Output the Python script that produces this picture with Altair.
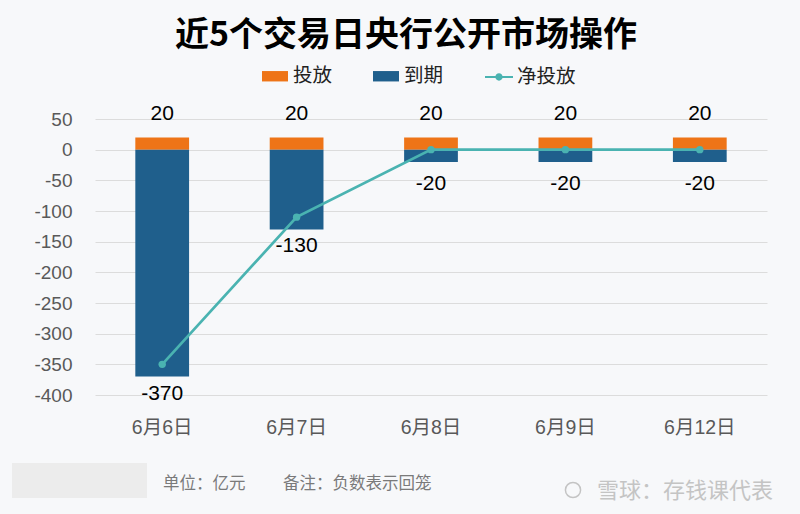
import altair as alt
import pandas as pd

# ---- data ----
dates = ["6月6日", "6月7日", "6月8日", "6月9日", "6月12日"]
injection = [20, 20, 20, 20, 20]          # 投放
maturity = [-370, -130, -20, -20, -20]    # 到期
net = [-350, -110, 0, 0, 0]               # 净投放
y_ticks = [50, 0, -50, -100, -150, -200, -250, -300, -350, -400]

bar_types = ["投放", "到期"]
bar_colors = ["#ee7417", "#1f5f8c"]
line_color = "#4ab3b1"

FONT = "Liberation Sans, Noto Sans CJK SC, sans-serif"
CJK = "Noto Sans CJK SC, sans-serif"

bars_df = pd.DataFrame({
    "日期": dates * 2,
    "类型": ["投放"] * len(dates) + ["到期"] * len(dates),
    "值": injection + maturity,
})
net_df = pd.DataFrame({"日期": dates, "系列": ["净投放"] * len(dates), "值": net})

x_enc = alt.X("日期:N", sort=dates, title=None,
              scale=alt.Scale(paddingInner=0.6, paddingOuter=0.3),
              axis=alt.Axis(labelAngle=0, labelFontSize=19.5, labelColor="#595959",
                            labelFont=FONT, ticks=False, domain=False,
                            labelPadding=23, grid=False))
y_scale = alt.Scale(domain=[-400, 50], nice=False, zero=True)
y_enc = alt.Y("值:Q", scale=y_scale, title=None,
              axis=alt.Axis(values=y_ticks, tickCount=len(y_ticks) + 2,
                            labelFontSize=19, labelColor="#595959",
                            labelFont=FONT, ticks=False, domain=False,
                            labelOverlap=False, labelFlush=False,
                            labelExpr="toString(datum.value)",
                            labelPadding=23, gridColor="#dcdcdc", gridWidth=1))

rect_shape = "M-1,-0.4H1V0.4H-1Z"
line_shape = ("M-1,-0.08H1V0.08H-1Z "
              "M0.26,0A0.26,0.26 0 1 1 -0.26,0A0.26,0.26 0 1 1 0.26,0Z")

bars = alt.Chart(bars_df).mark_bar().encode(
    x=x_enc,
    y=y_enc,
    color=alt.Color("类型:N",
                    scale=alt.Scale(domain=bar_types, range=bar_colors),
                    legend=alt.Legend(title=None, orient="none", direction="horizontal",
                                      legendX=167, legendY=-56,
                                      symbolType=rect_shape, symbolSize=676,
                                      symbolStrokeWidth=0,
                                      labelFontSize=19.5, labelFont=CJK, labelColor="#222222",
                                      labelOffset=5, columnPadding=40)),
)

line = alt.Chart(net_df).mark_line(strokeWidth=2.7).encode(
    x=alt.X("日期:N", sort=dates),
    y=alt.Y("值:Q"),
    stroke=alt.Stroke("系列:N",
                      scale=alt.Scale(domain=["净投放"], range=[line_color]),
                      legend=alt.Legend(title=None, orient="none", direction="horizontal",
                                        legendX=390, legendY=-56,
                                        symbolType=line_shape, symbolSize=784,
                                        symbolFillColor=line_color, symbolStrokeWidth=0,
                                        labelFontSize=19.5, labelFont=CJK, labelColor="#222222",
                                        labelOffset=4)),
)
points = alt.Chart(net_df).mark_point(filled=True, size=55, opacity=1, color=line_color).encode(
    x=alt.X("日期:N", sort=dates),
    y=alt.Y("值:Q"),
)

label_style = dict(fontSize=21, font=FONT, color="#000000", baseline="middle", align="center")
def value_labels(cond, dy):
    return alt.Chart(bars_df).transform_filter(cond).transform_calculate(
        lbl="toString(datum['值'])").mark_text(dy=dy, **label_style).encode(
        x=alt.X("日期:N", sort=dates), y=alt.Y("值:Q"), text="lbl:N")

inj_labels = value_labels(alt.datum["类型"] == "投放", -23)
mat_big = value_labels((alt.datum["类型"] == "到期") & (alt.datum["值"] < -50), 17)
mat_small = value_labels((alt.datum["类型"] == "到期") & (alt.datum["值"] >= -50), 22)

# ---- footer annotations ----
blur = alt.Chart(pd.DataFrame({"k": [0]})).mark_rect(color="#ececec").encode(
    x=alt.value(-83), x2=alt.value(52), y=alt.value(344), y2=alt.value(379))
unit = alt.Chart(pd.DataFrame({"t": ["单位：亿元"]})).mark_text(
    align="left", baseline="middle", fontSize=16.5, font=CJK, color="#7a7a7a").encode(
    x=alt.value(68), y=alt.value(365), text="t:N")
note = alt.Chart(pd.DataFrame({"t": ["备注：负数表示回笼"]})).mark_text(
    align="left", baseline="middle", fontSize=16.5, font=CJK, color="#7a7a7a").encode(
    x=alt.value(188), y=alt.value(365), text="t:N")
logo = alt.Chart(pd.DataFrame({"k": [0]})).mark_point(
    shape="circle", size=230, color="#c4c4c4", strokeWidth=1.5, filled=False, opacity=1).encode(
    x=alt.value(478), y=alt.value(371))
mark = alt.Chart(pd.DataFrame({"t": ["雪球：存钱课代表"]})).mark_text(
    align="left", baseline="middle", fontSize=22, font=CJK, color="#c4c4c4").encode(
    x=alt.value(502), y=alt.value(372), text="t:N")

chart = alt.layer(
    bars, line, points, inj_labels, mat_big, mat_small, blur, unit, note, logo, mark
).resolve_scale(color="independent", stroke="independent").properties(
    width=672, height=276,
    autosize=alt.AutoSizeParams(type="none"),
    padding={"left": 95, "top": 119, "right": 33, "bottom": 119},
    background="#f7f8fa",
    title=alt.TitleParams("近5个交易日央行公开市场操作", fontSize=34, fontWeight="bold",
                          font=CJK, color="#000000", anchor="middle", dx=-25, offset=10),
).configure_view(stroke=None)

chart.save("out.html", embed_options={"renderer": "svg", "actions": False})
